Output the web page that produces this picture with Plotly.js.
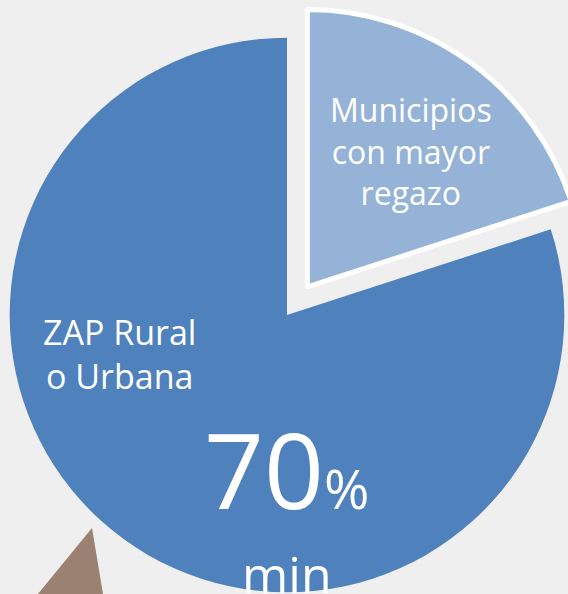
<!DOCTYPE html>
<html>
<head>
<meta charset="utf-8">
<script src="https://cdn.plot.ly/plotly-3.0.1.min.js"></script>
<style>
html, body { margin:0; padding:0; width:568px; height:594px; overflow:hidden; background:#efefef; }
#chart { position:absolute; left:-25px; top:3px; width:624px; height:624px; }
</style>
</head>
<body>
<div id="chart"></div>
<script>
// Data
const labels = ["Municipios con mayor regazo", "ZAP Rural o Urbana"];
const values = [20, 80];
const sliceColors = ["#95B3D7", "#4F81BD"];
const pulls = [0.125, 0];
const smallLabelLines = ["Municipios", "con mayor", "regazo"];
const bigLabelLines = ["ZAP Rural", "o Urbana"];
const bigValueText = "70";
const bigValueUnit = "%";
const bigValueNote = "min";

// helpers: page pixel -> paper coordinate of the enlarged plot div
const W = 624, H = 624, OX = -25, OY = 3;
const px = x => (x - OX) / W;
const py = y => 1 - (y - OY) / H;

const trace = {
  type: "pie",
  labels: labels,
  values: values,
  sort: false,
  direction: "clockwise",
  rotation: 0,
  pull: pulls,
  textinfo: "none",
  hoverinfo: "label+percent",
  marker: { colors: sliceColors, line: { color: "#ffffff", width: [5, 0] } },
  domain: { x: [0, 1], y: [0, 1] },
  showlegend: false
};

const font = "'Open Sans', 'DejaVu Sans', sans-serif";
function ann(text, x, y, size) {
  return { text: text, x: px(x), y: py(y), xref: "paper", yref: "paper",
    showarrow: false, xanchor: "center", yanchor: "middle",
    font: { family: font, size: size, color: "#ffffff" } };
}
const annotations = [
  ann(smallLabelLines.join("<br>"), 411, 151, 32),
  ann(bigLabelLines.join("<br>"), 119, 354, 34),
  ann(bigValueText + "<span style='font-size:55px'>" + bigValueUnit + "</span>", 287, 468, 105),
  ann(bigValueNote, 287, 574, 50)
];

const layout = {
  width: W, height: H,
  margin: { l: 0, r: 0, t: 0, b: 0 },
  paper_bgcolor: "#efefef",
  plot_bgcolor: "#efefef",
  showlegend: false,
  shapes: [{
    type: "path", xref: "paper", yref: "paper", layer: "below",
    path: `M ${px(33)} ${py(600)} L ${px(92)} ${py(528)} L ${px(104)} ${py(600)} Z`,
    fillcolor: "#9b8172", line: { width: 0 }
  }],
  annotations: annotations
};

Plotly.newPlot("chart", [trace], layout, { displayModeBar: false, staticPlot: true });
</script>
</body>
</html>
